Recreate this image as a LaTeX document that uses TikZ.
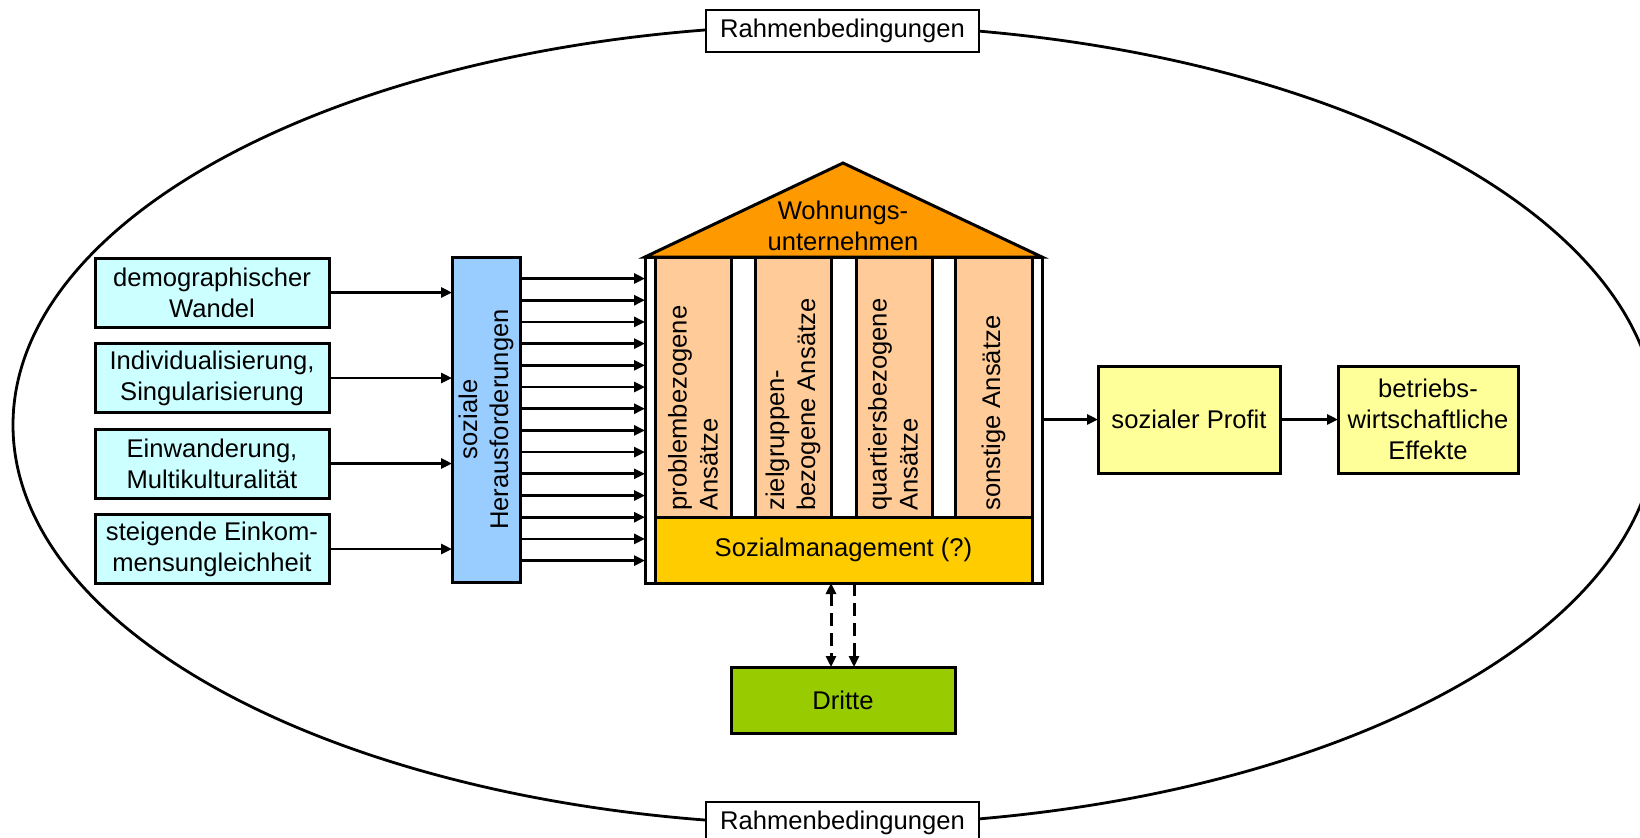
\documentclass[tikz,border=0pt]{standalone}
\usepackage{fontspec}
\setmainfont{Liberation Sans}
\usetikzlibrary{arrows.meta}
\definecolor{cyanbox}{HTML}{CCFFFF}
\definecolor{bluebox}{HTML}{99CCFF}
\definecolor{roofc}{HTML}{FF9900}
\definecolor{pillarc}{HTML}{FFCC99}
\definecolor{smc}{HTML}{FFCC00}
\definecolor{drc}{HTML}{99CC00}
\definecolor{yelbox}{HTML}{FFFF99}
\begin{document}
\begin{tikzpicture}[x=0.5pt,y=-0.5pt,
  font=\fontsize{12.8}{15.5}\selectfont,
  box/.style={draw, line width=1.5pt, inner sep=0pt, outer sep=0pt, align=center},
  frame/.style={draw, line width=1pt, fill=white, inner sep=0pt, outer sep=0pt,
    minimum width=136.5pt, minimum height=21pt},
  leftbox/.style={box, fill=cyanbox, minimum width=117pt, minimum height=34.5pt},
  pillar/.style={box, fill=pillarc, minimum width=38pt, minimum height=130pt},
  gapbox/.style={box, fill=white, minimum height=130pt},
  wall/.style={box, fill=white, minimum width=5pt, minimum height=163pt},
  ptext/.style={rotate=90, anchor=west, align=left, inner sep=0pt},
  yelbx/.style={box, fill=yelbox, minimum height=53.5pt},
  tip/.tip={Triangle[length=5.5pt,width=5pt]},
  arr/.style={line width=1.35pt, -tip},
  darr/.style={line width=1.5pt, dash pattern=on 6.5pt off 3.5pt}
]
\useasboundingbox (0,0) rectangle (1640,837);

% frame ellipse
\draw[line width=1.4pt] (835,425) ellipse [x radius=411pt, y radius=200pt];
\node[frame] (rtop) at (842.5,31) {Rahmenbedingungen};
\node[frame] (rbot) at (842.5,823) {Rahmenbedingungen};

% left boxes
\node[leftbox] (d1) at (212,292.5) {demographischer\\Wandel};
\node[leftbox] (d2) at (212,378) {Individualisierung,\\Singularisierung};
\node[leftbox] (d3) at (212,463.5) {Einwanderung,\\Multikulturalit\"at};
\node[leftbox] (d4) at (212,549) {steigende Einkom-\\mensungleichheit};

% soziale Herausforderungen
\node[box, fill=bluebox, minimum width=34pt, minimum height=162.5pt] (soz) at (486,419.5) {};
\node[rotate=90, align=center, inner sep=0pt] (sozt) at (soz.center) {soziale\\Herausforderungen};

\foreach \d in {d1,d2,d3,d4}
  \draw[arr] (\d.east) -- (soz.west |- \d.east);

% house
\draw[line width=1.5pt, fill=roofc, line join=miter] (645,257) -- (843,163) -- (1042,257) -- cycle;
\node[align=center, inner sep=0pt] (roof) at (843,226) {Wohnungs-\\unternehmen};

\node[wall] (wl) at (650,420) {};
\node[wall] (wr) at (1037,420) {};

\node[pillar] (p1) at (693,387) {};
\node[gapbox, minimum width=12pt] (g1) at (743,387) {};
\node[pillar] (p2) at (793,387) {};
\node[gapbox, minimum width=12.5pt] (g2) at (843.5,387) {};
\node[pillar] (p3) at (894,387) {};
\node[gapbox, minimum width=11.5pt] (g3) at (943.5,387) {};
\node[pillar, minimum width=38.5pt] (p4) at (993.5,387) {};

\node[ptext] (p1t) at (693,511) {problembezogene\\Ans\"atze};
\node[ptext] (p2t) at (793,511) {zielgruppen-\\bezogene Ans\"atze};
\node[ptext] (p3t) at (893,511) {quartiersbezogene\\Ans\"atze};
\node[ptext] (p4t) at (993.5,511) {sonstige Ans\"atze};

\node[box, fill=smc, minimum width=188.5pt, minimum height=33pt] (sm) at (843.5,550) {Sozialmanagement (?)};

% many arrows into the house
\foreach \i in {0,...,13} {
  \pgfmathsetmacro\yy{278.5+21.7*\i}
  \coordinate (h\i) at (0,\yy);
  \draw[arr] (soz.east |- h\i) -- (wl.west |- h\i);
}

% right side
\node[yelbx, minimum width=91pt] (sp) at (1189,419.5) {sozialer Profit};
\node[yelbx, minimum width=90pt] (bw) at (1428,419.5) {betriebs-\\wirtschaftliche\\Effekte};
\draw[arr] (wr.east |- sp.west) -- (sp.west);
\draw[arr] (sp.east) -- (bw.west);

% Dritte
\node[box, fill=drc, minimum width=112pt, minimum height=33pt] (dr) at (843,700) {Dritte};
\coordinate (dl) at (831,0);
\coordinate (dk) at (854,0);
\draw[darr, tip-tip] (sm.south -| dl) -- (dr.north -| dl);
\draw[darr, -tip] (sm.south -| dk) -- (dr.north -| dk);
\end{tikzpicture}
\end{document}
